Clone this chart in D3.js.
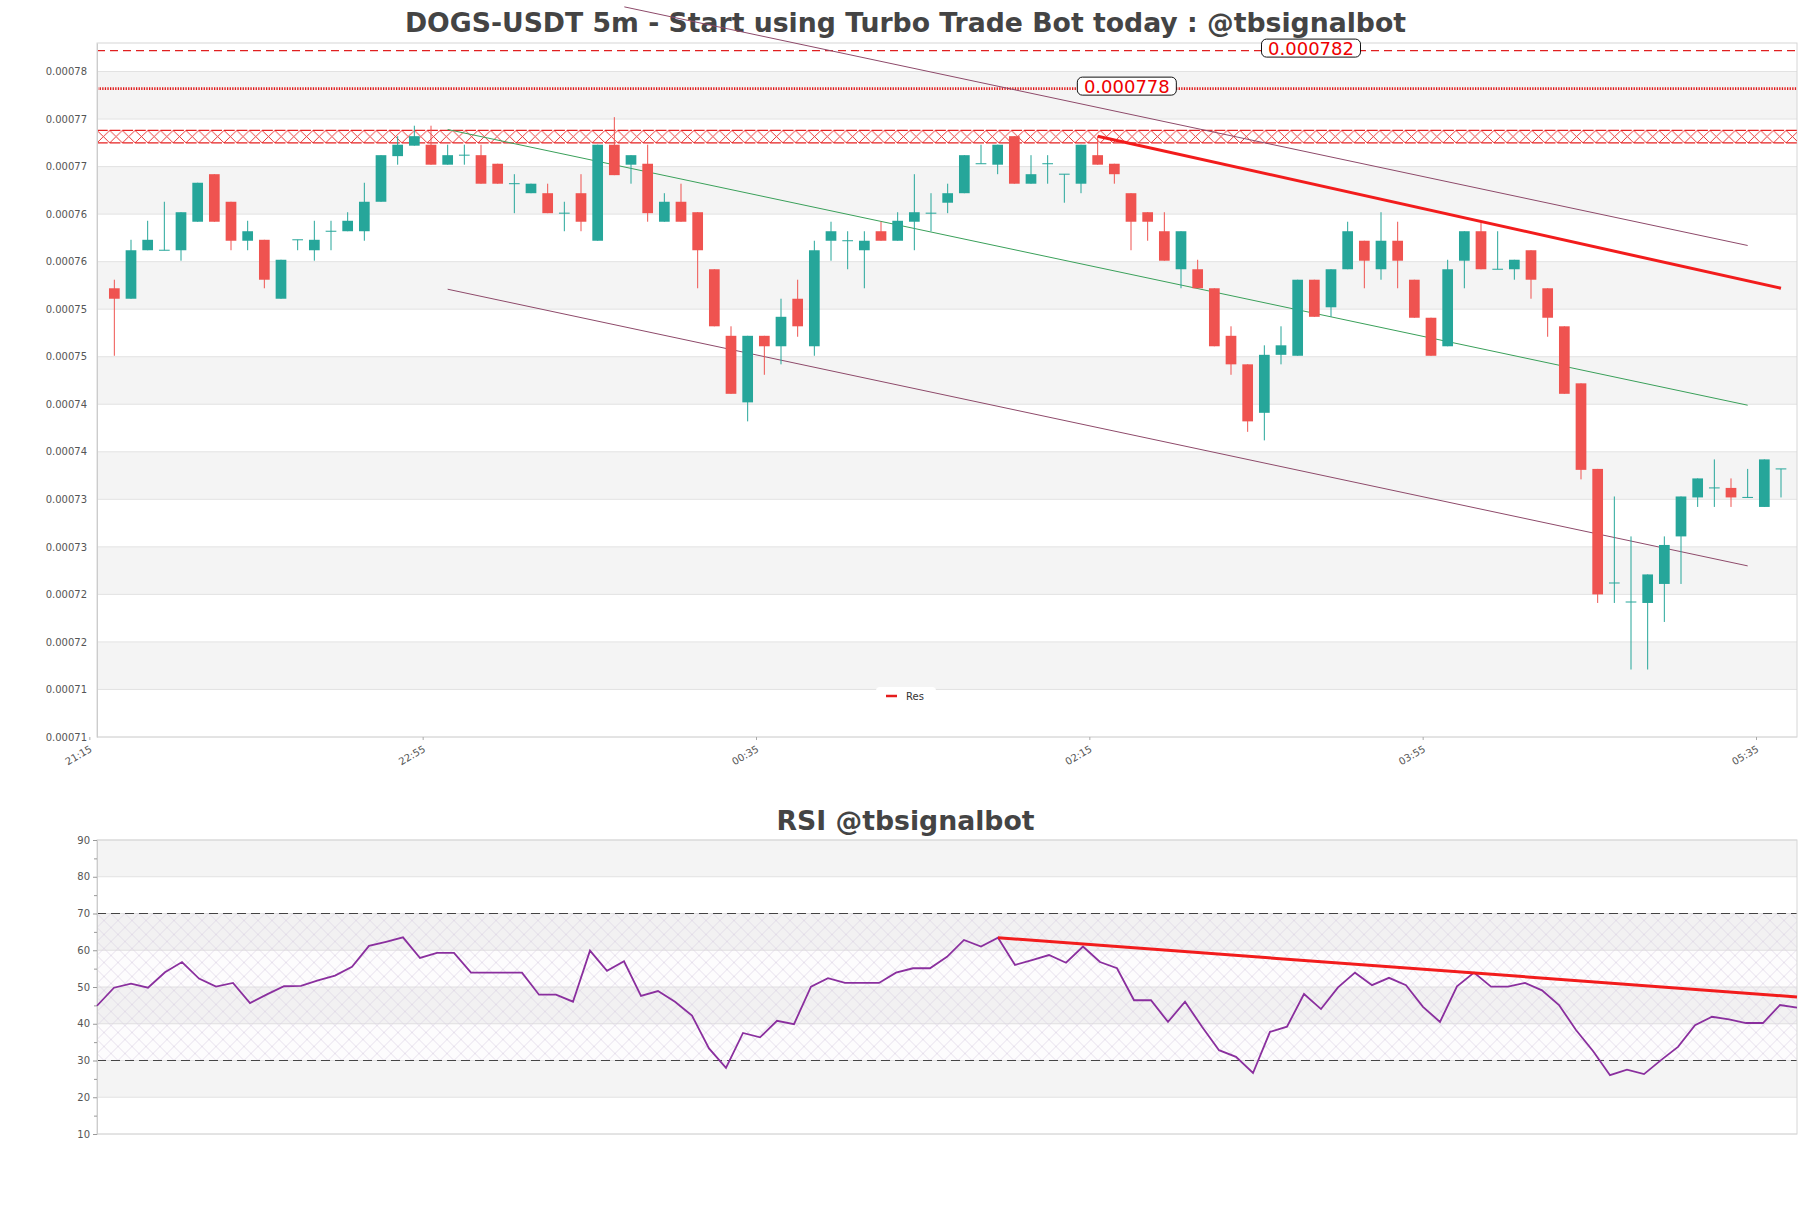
<!DOCTYPE html>
<html><head><meta charset="utf-8">
<script src="https://cdn.jsdelivr.net/npm/d3@7"></script>
<style>
body{margin:0;background:#fff;}
svg{display:block;font-family:"DejaVu Sans",sans-serif;}
</style></head><body>
<svg id="c" width="1811" height="1208"></svg>
<script>
// ---------- DATA ----------
const candleOpen = [7572e-7,7561e-7,7612e-7,7612e-7,7612e-7,7642e-7,7692e-7,7663e-7,7622e-7,7623e-7,
7561e-7,7623e-7,7612e-7,7632e-7,7632e-7,7632e-7,7663e-7,7711e-7,7722e-7,7723e-7,
7702e-7,7712e-7,7712e-7,7703e-7,7682e-7,7672e-7,7672e-7,7651e-7,7672e-7,7622e-7,
7723e-7,7702e-7,7703e-7,7642e-7,7663e-7,7652e-7,7592e-7,7522e-7,7452e-7,7522e-7,
7511e-7,7561e-7,7511e-7,7622e-7,7622e-7,7612e-7,7632e-7,7622e-7,7642e-7,7651e-7,
7662e-7,7672e-7,7703e-7,7702e-7,7732e-7,7682e-7,7703e-7,7692e-7,7682e-7,7712e-7,
7703e-7,7672e-7,7652e-7,7632e-7,7592e-7,7592e-7,7572e-7,7522e-7,7492e-7,7441e-7,
7502e-7,7501e-7,7581e-7,7552e-7,7592e-7,7622e-7,7592e-7,7622e-7,7581e-7,7541e-7,
7511e-7,7601e-7,7632e-7,7592e-7,7592e-7,7612e-7,7572e-7,7532e-7,7472e-7,7382e-7,
7262e-7,7242e-7,7241e-7,7261e-7,7311e-7,7352e-7,7362e-7,7362e-7,7352e-7,7342e-7,
7382e-7];
const candleHigh = [7581e-7,7623e-7,7643e-7,7663e-7,7652e-7,7683e-7,7692e-7,7663e-7,7643e-7,7623e-7,
7602e-7,7623e-7,7643e-7,7643e-7,7652e-7,7683e-7,7712e-7,7732e-7,7743e-7,7743e-7,
7723e-7,7723e-7,7723e-7,7703e-7,7692e-7,7682e-7,7682e-7,7663e-7,7692e-7,7723e-7,
7752e-7,7712e-7,7723e-7,7672e-7,7682e-7,7652e-7,7592e-7,7532e-7,7522e-7,7522e-7,
7561e-7,7581e-7,7622e-7,7642e-7,7632e-7,7632e-7,7642e-7,7652e-7,7692e-7,7672e-7,
7682e-7,7712e-7,7723e-7,7723e-7,7732e-7,7712e-7,7712e-7,7692e-7,7723e-7,7732e-7,
7703e-7,7672e-7,7652e-7,7652e-7,7632e-7,7602e-7,7572e-7,7532e-7,7492e-7,7512e-7,
7532e-7,7581e-7,7581e-7,7592e-7,7642e-7,7622e-7,7652e-7,7642e-7,7581e-7,7541e-7,
7602e-7,7632e-7,7642e-7,7632e-7,7602e-7,7612e-7,7572e-7,7532e-7,7472e-7,7382e-7,
7353e-7,7311e-7,7271e-7,7311e-7,7353e-7,7372e-7,7392e-7,7372e-7,7382e-7,7392e-7,
7382e-7];
const candleLow = [7501e-7,7561e-7,7612e-7,7612e-7,7601e-7,7642e-7,7642e-7,7612e-7,7612e-7,7572e-7,
7561e-7,7612e-7,7601e-7,7612e-7,7632e-7,7622e-7,7663e-7,7702e-7,7722e-7,7702e-7,
7702e-7,7702e-7,7682e-7,7682e-7,7651e-7,7672e-7,7651e-7,7632e-7,7632e-7,7622e-7,
7691e-7,7682e-7,7642e-7,7642e-7,7642e-7,7572e-7,7532e-7,7461e-7,7432e-7,7481e-7,
7492e-7,7521e-7,7501e-7,7601e-7,7592e-7,7572e-7,7622e-7,7622e-7,7612e-7,7632e-7,
7651e-7,7672e-7,7703e-7,7692e-7,7682e-7,7682e-7,7682e-7,7662e-7,7672e-7,7702e-7,
7682e-7,7612e-7,7622e-7,7601e-7,7572e-7,7572e-7,7511e-7,7481e-7,7421e-7,7412e-7,
7492e-7,7501e-7,7542e-7,7542e-7,7592e-7,7572e-7,7581e-7,7572e-7,7541e-7,7501e-7,
7511e-7,7572e-7,7592e-7,7592e-7,7581e-7,7561e-7,7521e-7,7461e-7,7371e-7,7241e-7,
7241e-7,7171e-7,7171e-7,7221e-7,7261e-7,7342e-7,7342e-7,7342e-7,7352e-7,7342e-7,
7352e-7];
const candleClose = [7561e-7,7612e-7,7623e-7,7612e-7,7652e-7,7683e-7,7642e-7,7622e-7,7632e-7,7581e-7,
7602e-7,7623e-7,7623e-7,7632e-7,7643e-7,7663e-7,7712e-7,7723e-7,7732e-7,7702e-7,
7712e-7,7712e-7,7682e-7,7682e-7,7682e-7,7682e-7,7651e-7,7651e-7,7642e-7,7723e-7,
7691e-7,7712e-7,7651e-7,7663e-7,7642e-7,7612e-7,7532e-7,7461e-7,7522e-7,7511e-7,
7542e-7,7532e-7,7612e-7,7632e-7,7622e-7,7622e-7,7622e-7,7643e-7,7652e-7,7651e-7,
7672e-7,7712e-7,7703e-7,7723e-7,7682e-7,7692e-7,7703e-7,7692e-7,7723e-7,7702e-7,
7692e-7,7642e-7,7642e-7,7601e-7,7632e-7,7572e-7,7511e-7,7492e-7,7432e-7,7502e-7,
7512e-7,7581e-7,7542e-7,7592e-7,7632e-7,7601e-7,7622e-7,7601e-7,7541e-7,7501e-7,
7592e-7,7632e-7,7592e-7,7592e-7,7602e-7,7581e-7,7541e-7,7461e-7,7381e-7,7250e-7,
7262e-7,7242e-7,7271e-7,7302e-7,7353e-7,7372e-7,7362e-7,7352e-7,7352e-7,7392e-7,
7382e-7];
const rsiValues = [44.9,49.8,50.9,49.8,54.0,56.8,52.3,50.1,51.1,45.6,
48.0,50.2,50.3,51.8,53.1,55.5,61.2,62.3,63.5,57.9,
59.3,59.3,53.9,53.9,53.9,53.9,47.9,47.9,46.0,59.9,
54.4,57.0,47.6,48.9,46.0,42.2,33.3,28.0,37.5,36.3,
40.8,39.9,50.1,52.4,51.1,51.1,51.1,53.9,55.1,55.1,
58.2,62.8,61.0,63.4,56.0,57.3,58.7,56.6,61.0,56.8,
55.1,46.4,46.4,40.5,46.0,39.2,32.8,31.0,26.6,37.8,
39.2,48.1,44.0,49.9,53.9,50.5,52.5,50.5,44.6,40.5,
50.2,53.9,50.1,50.1,51.1,49.1,45.1,38.3,32.6,26.0,
27.5,26.3,30.1,33.7,39.6,41.9,41.2,40.2,40.2,45.1,
44.4];
const firstCandleOpen = "2024-09-10T21:20:00";
const candleMinutes = 5;
const xTickLabels = ["21:15","22:55","00:35","02:15","03:55","05:35"];
const yTickValues = [0.00071,0.000715,0.00072,0.000725,0.00073,0.000735,0.00074,0.000745,0.00075,0.000755,0.00076,0.000765,0.00077,0.000775,0.00078];
const yTickLabels = ["0.00071","0.00071","0.00072","0.00072","0.00073","0.00073","0.00074","0.00074","0.00075","0.00075","0.00076","0.00076","0.00077","0.00077","0.00078"];
const rsiTickValues = [10,20,30,40,50,60,70,80,90];
const rsiMinorTicks = [15,25,35,45,55,65,75,85];
const priceLevelDashed = 0.0007822, priceLevelDashedLabel = "0.000782";
const priceLevelDotted = 0.0007782, priceLevelDottedLabel = "0.000778";
const zoneLow = 0.0007725, zoneHigh = 0.0007738;
const channelUpper = [[30.6,0.0007868],[98,0.0007617]];
const channelMid   = [[20,0.0007739],[98,0.0007449]];
const channelLower = [[20,0.0007571],[98,0.0007280]];
const resLine = [[59,0.0007732],[100,0.0007572]];
const rsiResLine = [[53,63.4],[100,47.3]];
const rsiLevels = [70,30];
const rsiZone = [30,70];
const legendLabel = "Res";

// ---------- LAYOUT ----------
const W = 1811;
const P = {l:97, r:1797, t:43, b:737};
const R = {l:97, r:1797, t:840, b:1134};
const GREEN = "#26a69a", RED = "#ef5350";

const svg = d3.select("#c");
const defs = svg.append("defs");

const t0 = new Date(firstCandleOpen).getTime();
const tAt = k => new Date(t0 + (k*candleMinutes + candleMinutes/2)*60000);
const x = d3.scaleTime().domain([tAt(-1.04), tAt(100.96)]).range([P.l, P.r]);
const y = d3.scaleLinear().domain([0.00071, 0.000783]).range([P.b, P.t]);
const xr = d3.scaleLinear().domain([0, rsiValues.length-1]).range([R.l, R.r]);
const yr = d3.scaleLinear().domain([10, 90]).range([R.b, R.t]);

const xTickDates = xTickLabels.map(s => {
  const [h,m] = s.split(":").map(Number);
  const d = new Date(firstCandleOpen); d.setHours(h, m, 0, 0);
  if (h < 12) d.setDate(d.getDate()+1);
  return d;
});

// ---------- TITLES ----------
svg.append("text").attr("x", W/2).attr("y", 32).attr("text-anchor","middle")
  .attr("font-size", 26.7).attr("font-weight","bold").attr("fill","#444")
  .text("DOGS-USDT 5m - Start using Turbo Trade Bot today : @tbsignalbot");
svg.append("text").attr("x", W/2).attr("y", 829.5).attr("text-anchor","middle")
  .attr("font-size", 26.7).attr("font-weight","bold").attr("fill","#444")
  .text("RSI @tbsignalbot");

// ---------- MAIN PLOT BACKGROUND ----------
const gMain = svg.append("g");
for (let k = 0; k < yTickValues.length; k++) {
  const lo = yTickValues[k], hi = k+1 < yTickValues.length ? yTickValues[k+1] : y.domain()[1];
  gMain.append("rect").attr("x", P.l).attr("width", P.r-P.l)
    .attr("y", y(hi)).attr("height", y(lo)-y(hi))
    .attr("fill", k % 2 === 1 ? "#f4f4f4" : "#ffffff");
}
yTickValues.forEach(v => gMain.append("line").attr("x1",P.l).attr("x2",P.r)
  .attr("y1", y(v)).attr("y2", y(v)).attr("stroke","#e2e2e2").attr("stroke-width",1));
gMain.append("rect").attr("x",P.l).attr("y",P.t).attr("width",P.r-P.l).attr("height",P.b-P.t)
  .attr("fill","none").attr("stroke","#d6d6d6");

// axes
const yAxis = d3.axisLeft(y).tickValues(yTickValues).tickFormat((d,i)=>yTickLabels[i]).tickSize(0).tickPadding(10);
const gy = svg.append("g").attr("transform",`translate(${P.l},0)`).call(yAxis);
gy.select(".domain").attr("stroke","#ccc");
gy.selectAll("text").attr("font-size",10).attr("fill","#555").attr("font-family","DejaVu Sans");

const xAxis = d3.axisBottom(x).tickValues(xTickDates).tickFormat((d,i)=>xTickLabels[i]).tickSize(3).tickSizeOuter(0);
const gx = svg.append("g").attr("transform",`translate(0,${P.b})`).call(xAxis);
gx.select(".domain").remove();
gx.selectAll(".tick line").attr("stroke","#aaa");
gx.selectAll("text").attr("font-size",10).attr("fill","#555").attr("font-family","DejaVu Sans")
  .attr("text-anchor","end").attr("dy",0).attr("y",0)
  .attr("transform","translate(3,14) rotate(-30)");

// ---------- ZONE (hatched) ----------
const zy1 = y(zoneHigh), zy2 = y(zoneLow), zh = zy2 - zy1;
const pat = defs.append("pattern").attr("id","zoneHatch").attr("patternUnits","userSpaceOnUse")
  .attr("x", P.l).attr("y", zy1).attr("width", 12.7).attr("height", zh);
pat.append("path").attr("d",`M0,0L12.7,${zh}M0,${zh}L12.7,0`).attr("stroke","#e52020").attr("stroke-width",0.9).attr("fill","none");
gMain.append("rect").attr("x",P.l).attr("y",zy1).attr("width",P.r-P.l).attr("height",zh).attr("fill","url(#zoneHatch)");
[zy1, zy2].forEach(yy => gMain.append("line").attr("x1",P.l).attr("x2",P.r).attr("y1",yy).attr("y2",yy)
  .attr("stroke","#e52020").attr("stroke-width",1.2).attr("stroke-dasharray","10.7 2"));

// ---------- LEVEL LINES ----------
gMain.append("line").attr("x1",P.l).attr("x2",P.r).attr("y1",y(priceLevelDashed)).attr("y2",y(priceLevelDashed))
  .attr("stroke","#e02020").attr("stroke-width",1.3).attr("stroke-dasharray","8 5");
gMain.append("line").attr("x1",P.l).attr("x2",P.r).attr("y1",y(priceLevelDotted)).attr("y2",y(priceLevelDotted))
  .attr("stroke","#e01818").attr("stroke-width",2.6).attr("stroke-dasharray","1.3 1.3");

// ---------- CHANNEL LINES ----------
const lineGen = d3.line().x(d => x(tAt(d[0]))).y(d => y(d[1]));
gMain.append("path").attr("d", lineGen(channelUpper)).attr("stroke","#8e4a6a").attr("stroke-width",1).attr("fill","none");
gMain.append("path").attr("d", lineGen(channelLower)).attr("stroke","#8e4a6a").attr("stroke-width",1).attr("fill","none");
gMain.append("path").attr("d", lineGen(channelMid)).attr("stroke","#3aa05a").attr("stroke-width",1).attr("fill","none");

// ---------- CANDLES ----------
const bw = 10.7;
const gC = svg.append("g");
candleOpen.forEach((o,i) => {
  const c = candleClose[i], h = candleHigh[i], l = candleLow[i];
  const col = c >= o ? GREEN : RED;
  const cx = x(tAt(i));
  gC.append("line").attr("x1",cx).attr("x2",cx).attr("y1",y(h)).attr("y2",y(l)).attr("stroke",col).attr("stroke-width",1);
  const top = y(Math.max(o,c)), bot = y(Math.min(o,c));
  if (bot - top < 1) {
    gC.append("line").attr("x1",cx-bw/2).attr("x2",cx+bw/2).attr("y1",top).attr("y2",top).attr("stroke",col).attr("stroke-width",1);
  } else {
    gC.append("rect").attr("x",cx-bw/2).attr("width",bw).attr("y",top).attr("height",bot-top).attr("fill",col);
  }
});

// ---------- RESISTANCE LINE ----------
svg.append("path").attr("d", lineGen(resLine)).attr("stroke","#f21c1c").attr("stroke-width",3).attr("fill","none");

// ---------- LEVEL LABELS ----------
function levelLabel(val, txt, idx) {
  const cx = x(tAt(idx)), cy = y(val) - 2.5;
  const g = svg.append("g");
  g.append("rect").attr("x",cx-49.5).attr("y",cy-9).attr("width",99).attr("height",18).attr("rx",5)
    .attr("fill","#fff").attr("stroke","#111").attr("stroke-width",1);
  g.append("text").attr("x",cx).attr("y",cy+6.5).attr("text-anchor","middle").attr("font-size",18)
    .attr("fill","#ee0000").text(txt);
}
levelLabel(priceLevelDashed, priceLevelDashedLabel, 71.8);
levelLabel(priceLevelDotted, priceLevelDottedLabel, 60.75);

// ---------- LEGEND ----------
const lg = svg.append("g").attr("transform","translate(880,695)");
lg.append("rect").attr("x",-4).attr("y",-8).attr("width",60).attr("height",16).attr("rx",4).attr("fill","#fff");
lg.append("line").attr("x1",6).attr("x2",17).attr("y1",1).attr("y2",1).attr("stroke","#e51c1c").attr("stroke-width",2.5);
lg.append("text").attr("x",26).attr("y",4.5).attr("font-size",10).attr("fill","#333").text(legendLabel);

// ---------- RSI PLOT ----------
const gR = svg.append("g");
for (let k = 0; k < rsiTickValues.length-1; k++) {
  const lo = rsiTickValues[k], hi = rsiTickValues[k+1];
  gR.append("rect").attr("x",R.l).attr("width",R.r-R.l).attr("y",yr(hi)).attr("height",yr(lo)-yr(hi))
    .attr("fill", k % 2 === 1 ? "#f4f4f4" : "#ffffff");
}
rsiTickValues.forEach(v => gR.append("line").attr("x1",R.l).attr("x2",R.r).attr("y1",yr(v)).attr("y2",yr(v))
  .attr("stroke","#e2e2e2"));
const rp = defs.append("pattern").attr("id","rsiHatch").attr("patternUnits","userSpaceOnUse")
  .attr("x",R.l).attr("y",yr(rsiZone[1])).attr("width",14).attr("height",14);
rp.append("path").attr("d","M0,0L14,14M0,14L14,0").attr("stroke","#d9cfe0").attr("stroke-width",0.6).attr("fill","none");
gR.append("rect").attr("x",R.l).attr("width",R.r-R.l).attr("y",yr(rsiZone[1])).attr("height",yr(rsiZone[0])-yr(rsiZone[1]))
  .attr("fill","rgba(200,170,215,0.04)");
gR.append("rect").attr("x",R.l).attr("width",R.r-R.l).attr("y",yr(rsiZone[1])).attr("height",yr(rsiZone[0])-yr(rsiZone[1]))
  .attr("fill","url(#rsiHatch)");
rsiLevels.forEach(v => gR.append("line").attr("x1",R.l).attr("x2",R.r).attr("y1",yr(v)).attr("y2",yr(v))
  .attr("stroke","#444").attr("stroke-width",1.2).attr("stroke-dasharray","9 5"));
gR.append("rect").attr("x",R.l).attr("y",R.t).attr("width",R.r-R.l).attr("height",R.b-R.t)
  .attr("fill","none").attr("stroke","#d6d6d6");

const ryAxis = d3.axisLeft(yr).tickValues(rsiTickValues).tickSize(4).tickPadding(3);
const gry = svg.append("g").attr("transform",`translate(${R.l},0)`).call(ryAxis);
gry.select(".domain").attr("stroke","#ccc");
gry.selectAll(".tick line").attr("stroke","#999");
gry.selectAll("text").attr("font-size",10).attr("fill","#555").attr("font-family","DejaVu Sans");
const rmAxis = d3.axisLeft(yr).tickValues(rsiMinorTicks).tickSize(3).tickFormat("");
const grm = svg.append("g").attr("transform",`translate(${R.l},0)`).call(rmAxis);
grm.select(".domain").remove();
grm.selectAll(".tick line").attr("stroke","#999");

const rsiLine = d3.line().x((d,i)=>xr(i)).y(d=>yr(d));
svg.append("path").attr("d", rsiLine(rsiValues)).attr("stroke","#8a2f9e").attr("stroke-width",1.8).attr("fill","none");
const rsiResGen = d3.line().x(d=>xr(d[0])).y(d=>yr(d[1]));
svg.append("path").attr("d", rsiResGen(rsiResLine)).attr("stroke","#f21c1c").attr("stroke-width",3).attr("fill","none");
</script>
</body></html>
